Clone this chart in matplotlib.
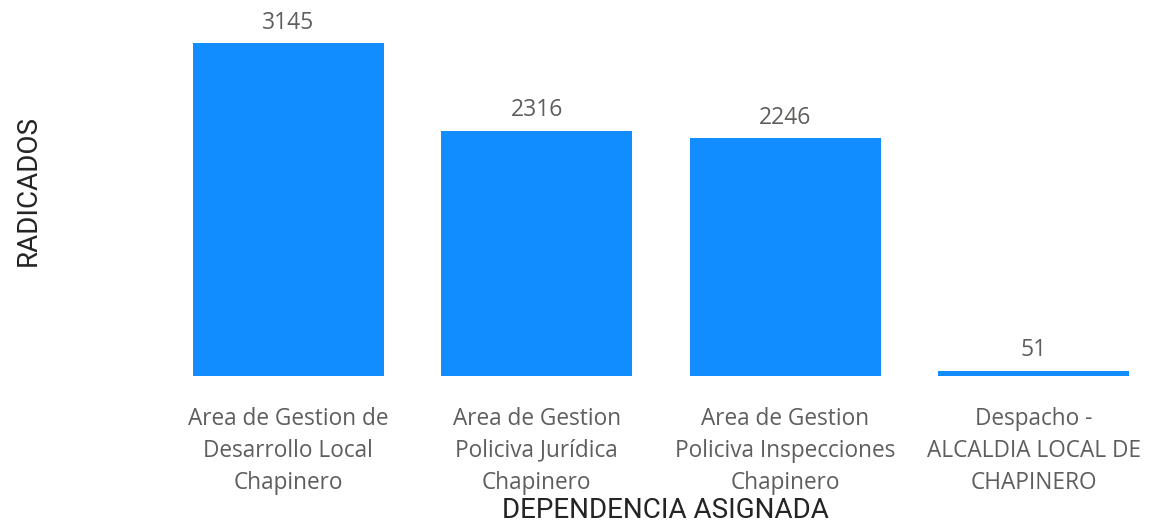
import matplotlib
matplotlib.use('Agg')
import matplotlib.pyplot as plt

# datos
categorias = [
    'Area de Gestion de\nDesarrollo Local\nChapinero',
    'Area de Gestion\nPoliciva Jurídica\nChapinero',
    'Area de Gestion\nPoliciva Inspecciones\nChapinero',
    'Despacho -\nALCALDIA LOCAL DE\nCHAPINERO',
]
radicados = [3145, 2316, 2246, 51]

W, H = 1150, 524
fig = plt.figure(figsize=(W / 100, H / 100), dpi=100)
# ejes ubicados en pixeles
left, bottom, top = 164, 376, 20
ax = fig.add_axes([left / W, (H - bottom) / H, (W - left) / W, (bottom - top) / H])

x = range(len(categorias))
bars = ax.bar(x, radicados, width=0.77, color='#118DFF')

paso = 248.5
ax.set_xlim(-0.5, -0.5 + (W - left) / paso)
ax.set_ylim(0, 3145 * (bottom - top) / 333)

for b, v in zip(bars, radicados):
    ax.annotate(str(v), (b.get_x() + b.get_width() / 2, v), xytext=(0, 6),
                textcoords='offset points', ha='center', va='bottom',
                fontsize=16.5, color='#605E5C', family='Open Sans')

ax.set_xticks(list(x))
ax.set_xticklabels(categorias, fontsize=16.3, color='#605E5C', family='Open Sans',
                   linespacing=1.45)
ax.tick_params(axis='x', length=0, pad=22)
ax.set_yticks([])
for s in ax.spines.values():
    s.set_visible(False)

fig.text(665 / W, 1 - 511 / H, 'DEPENDENCIA ASIGNADA', ha='center', va='center',
         fontsize=20, color='#252423', family='Roboto')
fig.text(28 / W, 1 - 190 / H, 'RADICADOS', ha='center', va='center', rotation=90,
         fontsize=20, color='#252423', family='Roboto')

fig.savefig('out.png', dpi=100)
